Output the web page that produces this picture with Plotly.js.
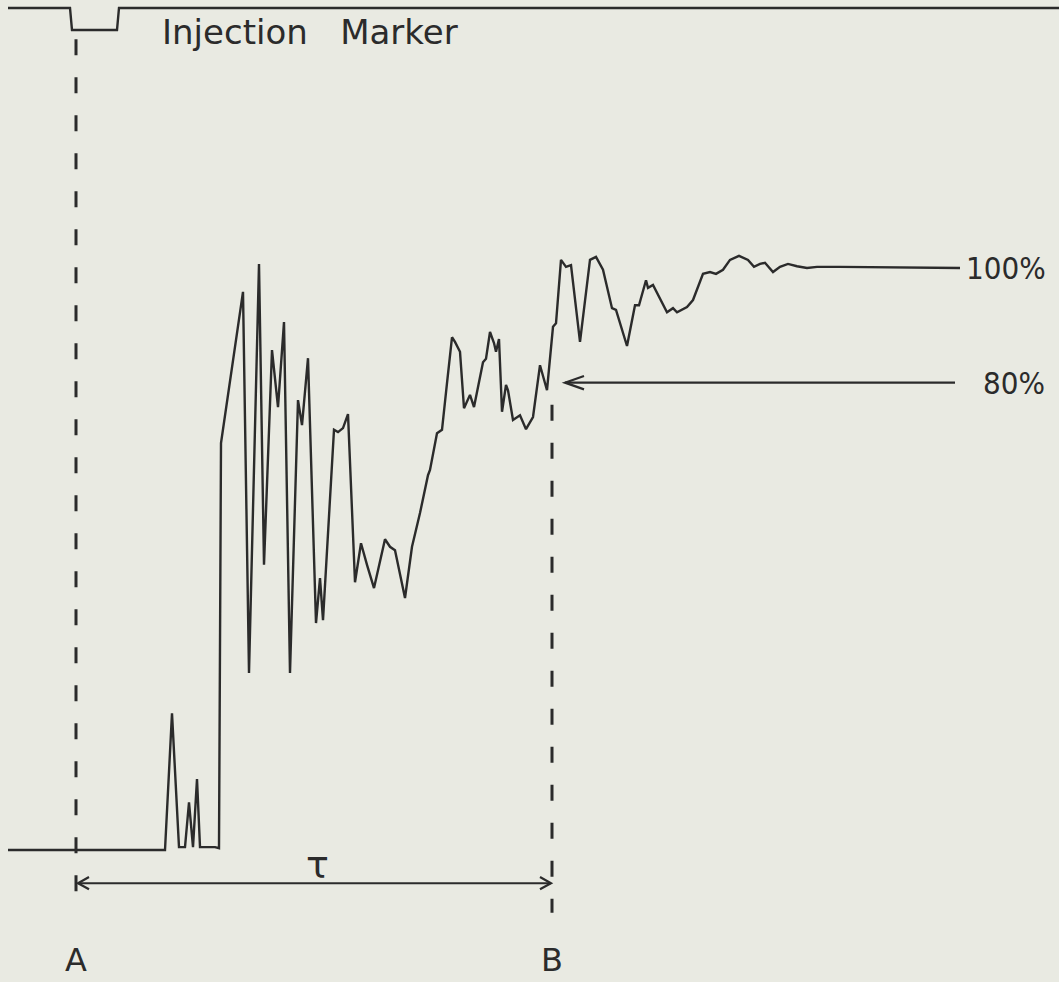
<!DOCTYPE html>
<html>
<head>
<meta charset="utf-8">
<script src="https://cdn.plot.ly/plotly-3.0.1.min.js"></script>
<style>html,body{margin:0;padding:0;background:#e9eae2;}#chart{width:1059px;height:982px;}</style>
</head>
<body>
<div id="chart"></div>
<script>
// Time (arbitrary chart units, injection A at 0) and response (% of final level)
const time = [
  -68, 89, 96, 103, 109, 113, 117, 121, 124, 139,
  143, 145, 167, 173, 183, 188, 196, 202, 208, 214,
  222, 226, 232, 240, 244, 247, 258, 262, 267, 272,
  279, 285, 291, 298, 309, 314, 319, 329, 336, 344,
  352, 354, 361, 366, 371, 376, 379, 384, 388, 394,
  398, 407, 410, 414, 418, 420, 423, 426, 430, 432,
  437, 444, 450, 457, 464, 471, 477, 480, 485, 490,
  495, 504, 514, 520, 527, 536, 540, 551, 559, 563,
  570, 572, 577, 591, 597, 601, 611, 617, 627, 634,
  640, 647, 654, 663, 672, 678, 684, 689, 697, 704,
  712, 721, 731, 741, 764, 884
];
const response = [
  0, 0, 23.5, 0.5, 0.5, 8.2, 0.5, 12.2, 0.5, 0.5,
  0.3, 69.9, 95.9, 30.4, 100.7, 49.0, 85.9, 76.1, 90.7, 30.4,
  77.3, 73.0, 84.5, 39.0, 46.7, 39.5, 72.2, 71.8, 72.5, 74.9,
  46.0, 52.7, 49.0, 45.0, 53.4, 52.1, 51.5, 43.3, 52.1, 57.9,
  64.4, 65.3, 71.6, 72.2, 80.2, 88.1, 87.3, 85.6, 75.9, 78.2,
  76.1, 83.8, 84.4, 89.0, 87.1, 85.6, 87.8, 75.3, 79.9, 79.0,
  73.9, 74.7, 72.3, 74.4, 83.3, 79.0, 89.9, 90.5, 101.4, 100.2,
  100.5, 87.3, 101.4, 101.9, 99.7, 93.1, 92.8, 86.6, 93.6, 93.6,
  97.9, 96.6, 97.1, 92.4, 93.1, 92.4, 93.3, 94.5, 99.0, 99.3,
  99.0, 99.7, 101.4, 102.1, 101.4, 100.2, 100.7, 100.9, 99.3, 100.2,
  100.7, 100.3, 100.0, 100.2, 100.2, 100.0
];
// Injection marker channel (1 = idle, 0 = injection pulse)
const markerTime = [-68, -6, -4, 41, 43, 983];
const markerLevel = [1, 1, 0, 0, 1, 1];

// Reference points
const injectionTime = 0;      // A
const tau = 476;              // B (time at which 80% is reached)
const levelFull = 100;
const levelEighty = 80;
const labels = {marker: "Injection\u00a0\u00a0\u00a0Marker", full: "100%", eighty: "80%", a: "A", b: "B", tau: "\u03c4"};

const ink = "#2b2b2b";
const font = "DejaVu Sans, sans-serif";
const fontNarrow = "DejaVu Sans Condensed, DejaVu Sans, sans-serif";

function chevron(tipX, tipY, dir, lx, hy) {
  return {type: "path", xref: "x", yref: "y",
    path: `M ${tipX + dir*lx} ${tipY + hy} L ${tipX} ${tipY} L ${tipX + dir*lx} ${tipY - hy}`,
    line: {color: ink, width: 2.2}};
}

const tauY = -5.7;
const shapes = [
  {type: "line", xref: "x", yref: "y", x0: injectionTime, x1: injectionTime, y0: 139.3, y1: -10.8,
   line: {color: ink, width: 3, dash: "16px,22px"}},
  {type: "line", xref: "x", yref: "y", x0: tau, x1: tau, y0: 76.5, y1: -10.8,
   line: {color: ink, width: 3, dash: "16px,22px"}},
  {type: "line", xref: "x", yref: "y", x0: injectionTime + 2, x1: tau - 1, y0: tauY, y1: tauY,
   line: {color: ink, width: 2}},
  chevron(injectionTime + 2, tauY, 1, 11, 1.05),
  chevron(tau - 1, tauY, -1, 11, 1.05),
  {type: "line", xref: "x", yref: "y", x0: 489, x1: 879, y0: levelEighty + 0.3, y1: levelEighty + 0.3,
   line: {color: ink, width: 2.2}},
  chevron(489, levelEighty + 0.3, 1, 19, 1.15)
];

const annotations = [
  {x: 84, y: -0.1, xref: "x", yref: "y2", text: labels.marker, showarrow: false, xanchor: "left", yanchor: "middle",
   font: {family: font, size: 34, color: ink}},
  {x: 888, y: levelFull, xref: "x", yref: "y", text: labels.full, showarrow: false, xanchor: "left", yanchor: "middle",
   font: {family: fontNarrow, size: 31, color: ink}},
  {x: 905, y: levelEighty + 0.3, xref: "x", yref: "y", text: labels.eighty, showarrow: false, xanchor: "left", yanchor: "middle",
   font: {family: fontNarrow, size: 31, color: ink}},
  {x: injectionTime, y: -22.4, xref: "x", yref: "y", text: labels.a, showarrow: false, xanchor: "center", yanchor: "bottom",
   borderpad: 0, font: {family: font, size: 32, color: ink}},
  {x: tau, y: -22.4, xref: "x", yref: "y", text: labels.b, showarrow: false, xanchor: "center", yanchor: "bottom",
   borderpad: 0, font: {family: font, size: 32, color: ink}},
  {x: 241, y: -2.6, xref: "x", yref: "y", text: labels.tau, showarrow: false, xanchor: "center", yanchor: "middle",
   font: {family: font, size: 38, color: ink}}
];

const data = [
  {x: time, y: response, type: "scatter", mode: "lines", line: {color: ink, width: 2.4}, xaxis: "x", yaxis: "y", hoverinfo: "skip"},
  {x: markerTime, y: markerLevel, type: "scatter", mode: "lines", line: {color: ink, width: 2.4}, xaxis: "x", yaxis: "y2", hoverinfo: "skip"}
];

const layout = {
  width: 1059, height: 982,
  margin: {l: 0, r: 0, t: 0, b: 0},
  paper_bgcolor: "#e9eae2", plot_bgcolor: "#e9eae2",
  showlegend: false,
  xaxis: {range: [-76, 983], visible: false, fixedrange: true},
  yaxis: {range: [-22.68, 146.05], visible: false, fixedrange: true},
  yaxis2: {range: [-43.27, 1.364], visible: false, overlaying: "y", fixedrange: true},
  shapes: shapes,
  annotations: annotations
};

Plotly.newPlot("chart", data, layout, {displayModeBar: false, staticPlot: true});
</script>
</body>
</html>
